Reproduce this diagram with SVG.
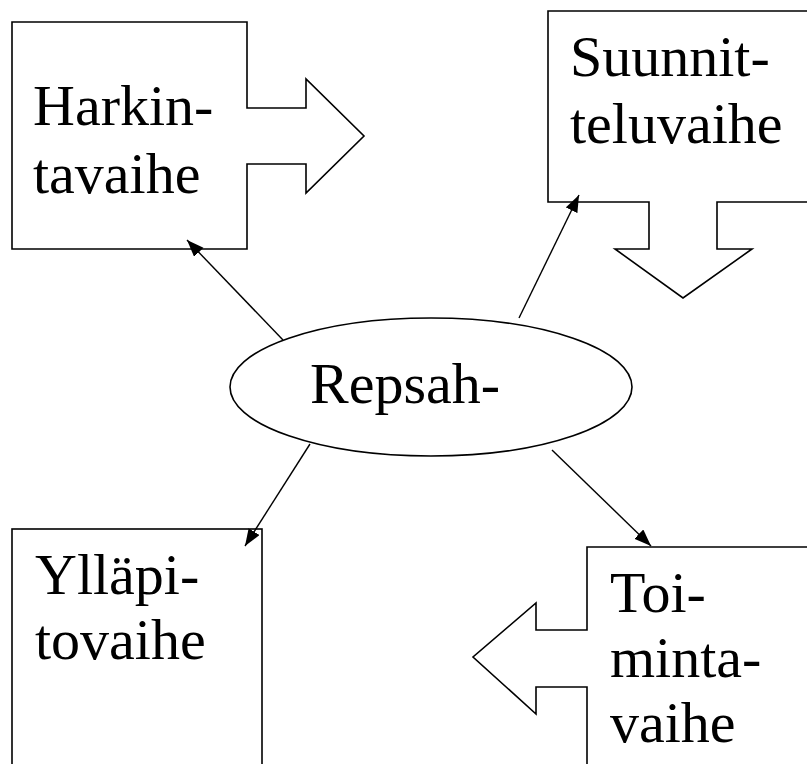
<svg xmlns="http://www.w3.org/2000/svg" width="807" height="764" viewBox="0 0 807 764">
<style>
.shape{fill:#fff;stroke:#000;stroke-width:1.6}
.t{font-family:"Liberation Serif","Times New Roman",serif;font-size:58px;fill:#000}
.c{stroke:#000;stroke-width:1.4;fill:none;marker-end:url(#ah)}
</style>
<defs>
<marker id="ah" markerUnits="userSpaceOnUse" markerWidth="18" markerHeight="14" refX="17" refY="6.5" orient="auto">
<path d="M0,0 L17,6.5 L0,13 Z" fill="#000"/>
</marker>
</defs>
<rect width="807" height="764" fill="#fff"/>
<g id="harkinta">
<polygon class="shape" points="12,22 247,22 247,108 306,108 306,79 364,136 306,193 306,164 247,164 247,249 12,249"/>
<text class="t" x="33" y="125">Harkin-</text>
<text class="t" x="33" y="193">tavaihe</text>
</g>
<g id="suunnittelu">
<polygon class="shape" points="548,11 812,11 812,202 717,202 717,249 752,249 683,298 615,249 649,249 649,202 548,202"/>
<text class="t" x="570" y="76">Suunnit-</text>
<text class="t" x="570" y="143">teluvaihe</text>
</g>
<g id="yllapito">
<rect class="shape" x="12" y="529" width="250" height="245"/>
<text class="t" x="35" y="594">Ylläpi-</text>
<text class="t" x="35" y="659">tovaihe</text>
</g>
<g id="toiminta">
<polygon class="shape" points="587,547 812,547 812,772 587,772 587,687 536,687 536,714 473,657 536,603 536,630 587,630"/>
<text class="t" x="610" y="612">Toi-</text>
<text class="t" x="610" y="677">minta-</text>
<text class="t" x="610" y="742">vaihe</text>
</g>
<g id="repsah">
<ellipse class="shape" cx="431" cy="387" rx="201" ry="69"/>
<text class="t" x="310" y="403">Repsah-</text>
</g>
<g id="connectors">
<line class="c" x1="283" y1="340" x2="187" y2="240"/>
<line class="c" x1="519" y1="318" x2="579" y2="195"/>
<line class="c" x1="310" y1="444" x2="245" y2="546"/>
<line class="c" x1="552" y1="450" x2="651" y2="546"/>
</g>
</svg>
